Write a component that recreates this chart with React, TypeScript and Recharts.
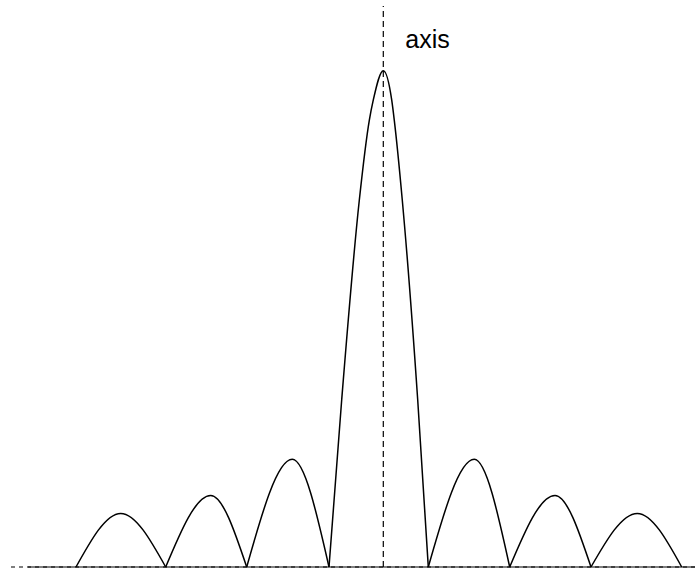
import { LineChart, Line, XAxis, YAxis, ReferenceLine } from 'recharts';

// Offsets are measured from the optical axis; amplitudes are relative to the central peak (100).
const baseline: [number, number][] = [[-355.3, 0], [311.7, 0]];

const leftLobe3: [number, number][] = [[-307.3, 0], [-262.6, 10.8], [-217.6, 0]];
const leftLobe2: [number, number][] = [[-217.6, 0], [-172.6, 14.4], [-136.6, 0]];
const leftLobe1: [number, number][] = [[-136.6, 0], [-91, 21.7], [-54.3, 0]];

const centralLobe: [number, number][] = [
  [-54.3, 0],
  [-41.6, 33.7],
  [-24, 73.9],
  [-14, 90],
  [-10, 94.1],
  [0, 100],
  [8.4, 94.1],
  [11, 90],
  [19, 73.9],
  [34.4, 33.7],
  [45, 0],
];

const rightLobe1: [number, number][] = [[45, 0], [91, 21.7], [126.4, 0]];
const rightLobe2: [number, number][] = [[126.4, 0], [171.7, 14.4], [207.7, 0]];
const rightLobe3: [number, number][] = [[207.7, 0], [254, 10.8], [298.4, 0]];

const lobes = [leftLobe3, leftLobe2, leftLobe1, centralLobe, rightLobe1, rightLobe2, rightLobe3];

const toRows = (pts: [number, number][]) => pts.map(([x, v]) => ({ x, v }));

const AxisLabel = (props: any) => {
  const vb = props.viewBox || {};
  return (
    <text
      x={(vb.x ?? 0) + 22}
      y={(vb.y ?? 0) + 42}
      fontFamily="'Liberation Sans', Arial, sans-serif"
      fontSize={25}
      fill="#000"
    >
      axis
    </text>
  );
};

export default function App() {
  return (
    <div style={{ position: 'absolute', left: 0, top: 0, width: 695, height: 574, background: '#fff' }}>
      <LineChart width={695} height={574} margin={{ top: 6, right: 0, bottom: 7, left: 11 }}>
        <XAxis type="number" dataKey="x" domain={[-372.3, 311.7]} hide />
        <YAxis type="number" domain={[0, 113.03]} hide />
        <ReferenceLine y={0} stroke="#000" strokeWidth={1.2} strokeDasharray="4 4" />
        <Line
          data={toRows(baseline)}
          dataKey="v"
          type="linear"
          stroke="#000"
          strokeWidth={1}
          dot={false}
          isAnimationActive={false}
        />
        {lobes.map((lobe, i) => (
          <Line
            key={i}
            data={toRows(lobe)}
            dataKey="v"
            type="monotone"
            stroke="#000"
            strokeWidth={1.5}
            dot={false}
            activeDot={false}
            isAnimationActive={false}
          />
        ))}
        <ReferenceLine
          x={0}
          stroke="#000"
          strokeWidth={1.2}
          strokeDasharray="6 4"
          label={<AxisLabel />}
        />
      </LineChart>
    </div>
  );
}
